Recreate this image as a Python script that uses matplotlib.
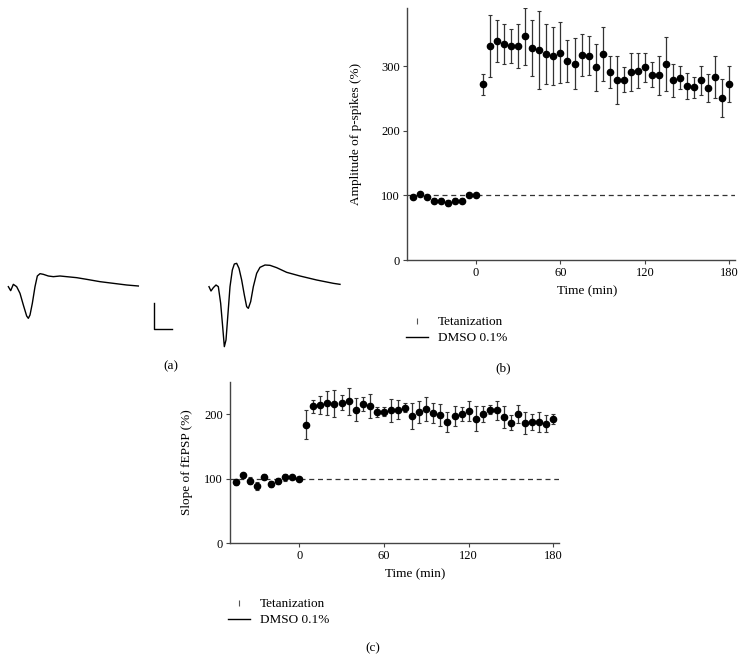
import matplotlib
matplotlib.use("Agg")
from matplotlib import pyplot as plt
from matplotlib.lines import Line2D

plt.rcParams['font.family'] = ['Liberation Serif', 'DejaVu Serif']
plt.rcParams['font.size'] = 9

# --- data ---
time_pre = [-45, -40, -35, -30, -25, -20, -15, -10, -5, 0]
time_post = [5, 10, 15, 20, 25, 30, 35, 40, 45, 50, 55, 60, 65, 70, 75, 80, 85, 90,
             95, 100, 105, 110, 115, 120, 125, 130, 135, 140, 145, 150, 155, 160,
             165, 170, 175, 180]

# (b) amplitude of population spikes (%)
pspike_pre = [98, 102, 97, 92, 92, 88, 92, 92, 100, 100]
pspike_pre_err = [3, 3, 3, 4, 4, 5, 4, 4, 3, 2]
pspike_post = [272, 331, 339, 334, 331, 331, 346, 328, 325, 319, 316, 321, 308, 304,
               317, 316, 298, 319, 291, 279, 279, 291, 293, 298, 287, 286, 303, 278,
               282, 269, 267, 278, 266, 283, 251, 273]
pspike_post_err = [16, 48, 33, 31, 26, 34, 44, 43, 60, 47, 45, 47, 32, 40, 33, 30, 37,
                   42, 25, 37, 19, 29, 27, 23, 20, 30, 42, 26, 18, 20, 16, 22, 22, 33,
                   29, 28]

# (c) slope of fEPSP (%)
fepsp_pre = [95, 105, 97, 89, 103, 92, 96, 102, 102, 100]
fepsp_pre_err = [5, 4, 5, 6, 4, 5, 5, 5, 2, 1]
fepsp_post = [184, 212, 214, 217, 216, 218, 220, 207, 216, 213, 203, 204, 206, 207,
              210, 197, 203, 208, 202, 199, 188, 197, 200, 205, 193, 200, 207, 206,
              196, 187, 200, 187, 188, 188, 185, 193]
fepsp_post_err = [22, 10, 14, 19, 21, 12, 21, 18, 11, 19, 8, 7, 18, 15, 7, 20, 17, 19,
                  16, 17, 15, 15, 11, 15, 19, 12, 7, 15, 17, 11, 14, 17, 12, 15, 13, 8]

# (a) example field potential traces (arbitrary units, y down)
trace_before_x = [25, 32, 40, 50, 60, 70, 80, 85, 90, 97, 105, 112, 120, 130, 145, 160,
                  180, 200, 230, 260, 300, 340, 380, 415]
trace_before_y = [140, 152, 133, 140, 160, 195, 228, 235, 225, 190, 140, 108, 101, 103,
                  108, 110, 108, 110, 113, 118, 125, 130, 135, 138]
trace_after_x = [627, 633, 640, 648, 655, 662, 668, 673, 678, 684, 690, 697, 703, 710,
                 717, 725, 733, 740, 745, 752, 760, 770, 780, 795, 810, 830, 860, 900,
                 950, 1000, 1020]
trace_after_y = [140, 153, 143, 135, 140, 190, 260, 320, 300, 220, 140, 90, 72, 70, 85,
                 120, 165, 200, 205, 185, 140, 100, 82, 75, 76, 83, 97, 108, 120, 130,
                 133]
scalebar_x = [462, 462, 517]
scalebar_y = [190, 268, 268]

W, H = 746, 662
fig = plt.figure(figsize=(W / 100, H / 100), dpi=100)


def px_axes(left, top, right, bottom):
    return fig.add_axes([left / W, 1 - bottom / H, (right - left) / W, (bottom - top) / H])


def style(ax):
    for s in ['top', 'right']:
        ax.spines[s].set_visible(False)
    for s in ['left', 'bottom']:
        ax.spines[s].set_color('#444444')
        ax.spines[s].set_linewidth(1.0)
    ax.tick_params(direction='out', length=3, width=0.8, color='#444444', pad=2)


def draw_panel(ax, pre, pre_err, post, post_err, ymax, yticks, ylabel):
    ax.axhline(100, color='#333333', lw=0.9, ls=(0, (4, 3)), zorder=1)
    for y, e, t in [(pre, pre_err, time_pre), (post, post_err, time_post)]:
        ax.errorbar(t, y, yerr=e, fmt='o', color='black', ms=4.5,
                    ecolor='#333333', elinewidth=0.9, capsize=1.3, capthick=0.8,
                    zorder=3)
    ax.set_xlim(-49, 184)
    ax.set_ylim(0, ymax)
    ax.set_xticks([0, 60, 120, 180])
    ax.set_yticks(yticks)
    ax.set_ylabel(ylabel, fontsize=9.5)
    ax.set_xlabel('Time (min)', fontsize=9.5)
    style(ax)


def draw_legend(x, y):
    handles = [Line2D([], [], ls='none', marker='|', color='#555555', ms=4, mew=0.8),
               Line2D([], [], color='black', lw=1.0)]
    fig.legend(handles, ['Tetanization', 'DMSO 0.1%'], loc='upper left',
               bbox_to_anchor=(x / W, 1 - y / H), frameon=False, fontsize=9.5,
               handlelength=1.7, handletextpad=0.7, labelspacing=0.3,
               borderpad=0, borderaxespad=0)


# panel (a)
ax_a = px_axes(0, 240, 350, 390)
ax_a.plot(trace_before_x, trace_before_y, color='black', lw=1.0)
ax_a.plot(trace_after_x, trace_after_y, color='black', lw=1.0)
ax_a.plot(scalebar_x, scalebar_y, color='black', lw=1.0)
ax_a.set_xlim(0, 1050)
ax_a.set_ylim(450, 0)
ax_a.axis('off')
fig.text(171 / W, 1 - 366 / H, '(a)', ha='center', va='center', fontsize=9.5)

# panel (b)
ax_b = px_axes(407, 8, 735, 260)
draw_panel(ax_b, pspike_pre, pspike_pre_err, pspike_post, pspike_post_err,
           390, [0, 100, 200, 300], 'Amplitude of p-spikes (%)')
ax_b.xaxis.set_label_coords((587 - 407) / 328, -0.1)
ax_b.yaxis.set_label_coords(-(407 - 362) / 328, 0.5)
draw_legend(406, 316)
fig.text(503 / W, 1 - 368 / H, '(b)', ha='center', va='center', fontsize=9.5)

# panel (c)
ax_c = px_axes(230, 382, 559, 543)
draw_panel(ax_c, fepsp_pre, fepsp_pre_err, fepsp_post, fepsp_post_err,
           250, [0, 100, 200], 'Slope of fEPSP (%)')
ax_c.xaxis.set_label_coords((415 - 230) / 329, -0.16)
ax_c.yaxis.set_label_coords(-(230 - 193) / 329, 0.5)
draw_legend(228, 598)
fig.text(373 / W, 1 - 648 / H, '(c)', ha='center', va='center', fontsize=9.5)

fig.savefig('out.png', dpi=100)
